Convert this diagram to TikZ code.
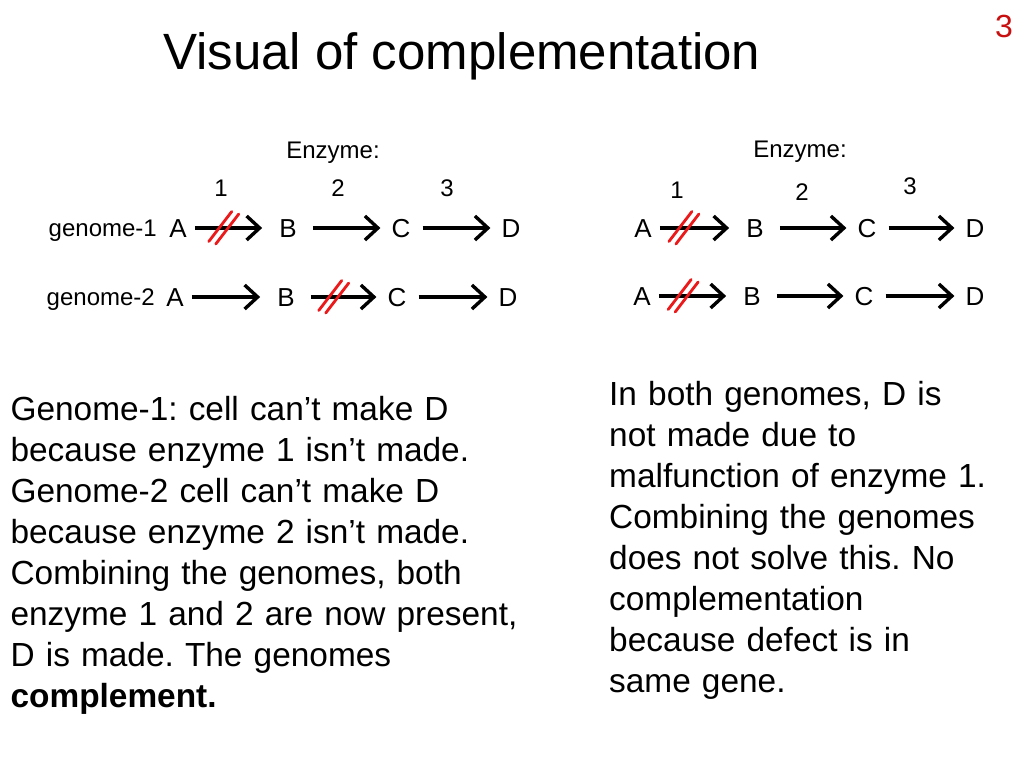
\documentclass[tikz,border=0pt]{standalone}
\usepackage{fontspec}
\setmainfont{Liberation Sans}
\usetikzlibrary{arrows.meta,calc}
\definecolor{pagered}{RGB}{200,16,16}
\definecolor{strikered}{RGB}{235,25,25}
\newcommand\dblstrike[1]{%
  \draw[strike] ($(#1)+(-15,13.5)$) -- ++(23,-30);
  \draw[strike] ($(#1)+(-8,16)$) -- ++(23,-30);}
\frenchspacing
\begin{document}
\begin{tikzpicture}[x=1pt,y=-1pt,
  lbl/.style={font=\fontsize{24}{28}\selectfont, inner sep=0pt, text height=17.2pt, text depth=0pt},
  met/.style={font=\fontsize{26}{30}\selectfont, inner sep=0pt, text height=18.6pt, text depth=0pt},
  arr/.style={line width=3.4pt, -{Straight Barb[length=13pt,width=24pt]}},
  arrone/.style={arr, shorten <=8pt, shorten >=17pt},
  arrtwo/.style={arr, shorten <=16pt, shorten >=11pt},
  arrthree/.style={arr, shorten <=12pt, shorten >=11pt},
  strike/.style={draw=strikered, line width=2.8pt, line cap=round},
  body/.style={font=\fontsize{33.4}{41}\selectfont, inner sep=0pt, align=left, anchor=north west},
]
\fill[white] (0,0) rectangle (1024,768);
\useasboundingbox (0,0) rectangle (1024,768);

% title and page number
\node[font=\fontsize{51}{60}\selectfont, inner sep=0pt, anchor=base west] (title) at (163,70) {Visual of complementation};
\node[font=\fontsize{32}{38}\selectfont, text=pagered, inner sep=0pt, text height=22.9pt, text depth=0pt] (pagenum) at (1004,26) {3};

% ---------- left diagram ----------
\node[lbl, text height=0pt, anchor=base] (lenz) at (333,158) {Enzyme:};
\node[lbl] (ln1) at (221,188) {1};
\node[lbl] (ln2) at (338,188) {2};
\node[lbl] (ln3) at (447,188) {3};

\node[lbl, anchor=east] (lg1) at (157,228) {genome-1};
\node[met] (l1a) at (178,228) {A};
\node[met] (l1b) at (288,228) {B};
\node[met] (l1c) at (401,228) {C};
\node[met] (l1d) at (511,228) {D};
\draw[arrone] (l1a) -- coordinate[pos=0.40] (ls1) (l1b);
\draw[arrtwo] (l1b) -- (l1c);
\draw[arrthree] (l1c) -- (l1d);
\dblstrike{ls1}

\node[lbl, anchor=east] (lg2) at (155,297) {genome-2};
\node[met] (l2a) at (175,297) {A};
\node[met] (l2b) at (286,297) {B};
\node[met] (l2c) at (397,297) {C};
\node[met] (l2d) at (508,297) {D};
\draw[arrone] (l2a) -- (l2b);
\draw[arrtwo] (l2b) -- coordinate[pos=0.42] (ls2) (l2c);
\draw[arrthree] (l2c) -- (l2d);
\dblstrike{ls2}

% ---------- right diagram ----------
\node[lbl, text height=0pt, anchor=base] (renz) at (800,157) {Enzyme:};
\node[lbl] (rn1) at (677,190) {1};
\node[lbl] (rn2) at (802,192) {2};
\node[lbl] (rn3) at (910,186) {3};

\node[met] (r1a) at (643,228) {A};
\node[met] (r1b) at (755,228) {B};
\node[met] (r1c) at (867,228) {C};
\node[met] (r1d) at (975,228) {D};
\draw[arrone] (r1a) -- coordinate[pos=0.34] (rs1) (r1b);
\draw[arrtwo] (r1b) -- (r1c);
\draw[arrthree] (r1c) -- (r1d);
\dblstrike{rs1}

\node[met] (r2a) at (642,296) {A};
\node[met] (r2b) at (752,296) {B};
\node[met] (r2c) at (864,296) {C};
\node[met] (r2d) at (975,296) {D};
\draw[arrone] (r2a) -- coordinate[pos=0.35] (rs2) (r2b);
\draw[arrtwo] (r2b) -- (r2c);
\draw[arrthree] (r2c) -- (r2d);
\dblstrike{rs2}

% ---------- explanatory text ----------
\node[body, text width=560pt] (lefttext) at (10.4,395) {\rule{0pt}{25.5pt}Genome-1: cell can’t make D\\
because enzyme 1 isn’t made.\\
Genome-2 cell can’t make D\\
because enzyme 2 isn’t made.\\
Combining the genomes, both\\
enzyme 1 and 2 are now present,\\
D is made. The genomes\\
\textbf{complement.}};

\node[body, text width=410pt] (righttext) at (609,380) {\rule{0pt}{25.5pt}In both genomes, D is\\
not made due to\\
malfunction of enzyme 1.\\
Combining the genomes\\
does not solve this. No\\
complementation\\
because defect is in\\
same gene.};
\end{tikzpicture}
\end{document}
